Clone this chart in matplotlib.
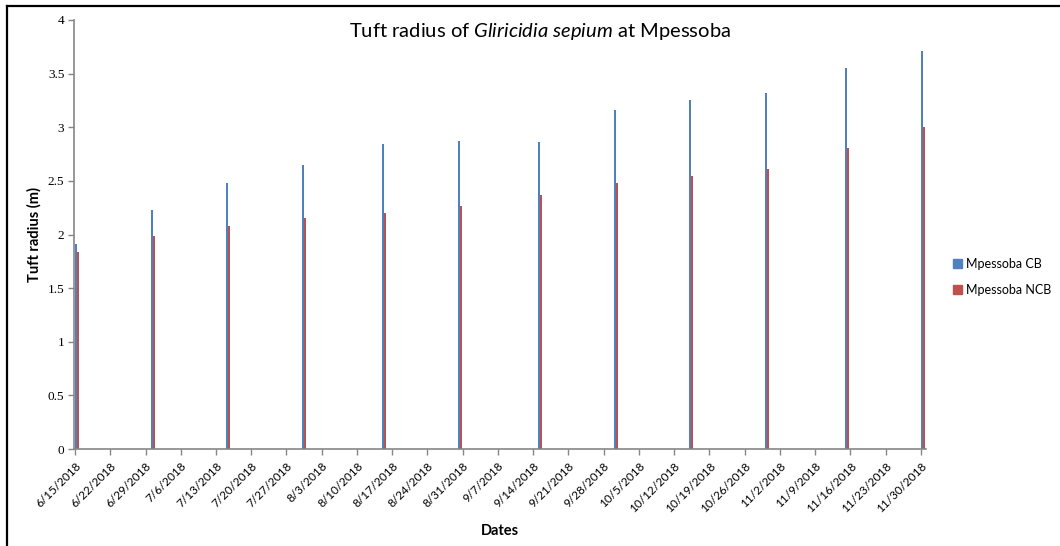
import datetime as dt

import matplotlib
matplotlib.use("Agg")
import matplotlib.pyplot as plt
import matplotlib.dates as mdates
from matplotlib.lines import Line2D
from matplotlib.patches import Patch

CB_BLUE = "#4f81bd"
NCB_RED = "#c0504d"
AXIS_GREY = "#868686"

# measurement dates and tuft radius (m) for each treatment
dates = [
    dt.date(2018, 6, 15), dt.date(2018, 6, 30), dt.date(2018, 7, 15),
    dt.date(2018, 7, 30), dt.date(2018, 8, 15), dt.date(2018, 8, 30),
    dt.date(2018, 9, 15), dt.date(2018, 9, 30), dt.date(2018, 10, 15),
    dt.date(2018, 10, 30), dt.date(2018, 11, 15), dt.date(2018, 11, 30),
]
radius_cb = [1.91, 2.23, 2.48, 2.65, 2.84, 2.87, 2.86, 3.16, 3.25, 3.32, 3.55, 3.71]
radius_ncb = [1.84, 1.99, 2.08, 2.15, 2.20, 2.27, 2.37, 2.48, 2.55, 2.61, 2.81, 3.00]

week_ticks = [dt.date(2018, 6, 15) + dt.timedelta(days=7 * i) for i in range(25)]
y_ticks = [0, 0.5, 1, 1.5, 2, 2.5, 3, 3.5, 4]


def plot():
    plt.rcParams["mathtext.fontset"] = "custom"
    plt.rcParams["mathtext.rm"] = "Lato"
    plt.rcParams["mathtext.it"] = "Lato:italic"

    W, H = 1060, 546
    fig = plt.figure(figsize=(W / 100, H / 100), dpi=100)
    ax = fig.add_axes([74 / W, 1 - 449 / H, (926 - 74) / W, (449 - 20) / H])

    x = mdates.date2num(dates)
    bw = 0.4
    ax.bar(x + 0.2, radius_cb, width=bw, color=CB_BLUE, linewidth=0)
    ax.bar(x + 0.6, radius_ncb, width=bw, color=NCB_RED, linewidth=0)

    ax.set_xlim(mdates.date2num(dt.date(2018, 6, 15)) - 0.2,
                mdates.date2num(dt.date(2018, 12, 1)))
    ax.set_ylim(0, 4)

    ax.set_xticks(mdates.date2num(week_ticks))
    ax.set_xticklabels([f"{d.month}/{d.day}/{d.year}" for d in week_ticks],
                       rotation=45, ha="right", rotation_mode="anchor",
                       fontsize=8.5, family="Lato")
    ax.set_yticks(y_ticks)
    ax.set_yticklabels([f"{v:g}" for v in y_ticks], fontsize=9.5,
                       family="Liberation Serif")

    for side in ("top", "right"):
        ax.spines[side].set_visible(False)
    for side in ("left", "bottom"):
        ax.spines[side].set_color(AXIS_GREY)
        ax.spines[side].set_linewidth(1.2)
    ax.tick_params(axis="both", direction="out", length=4, width=1,
                   color=AXIS_GREY, pad=3)
    ax.tick_params(axis="x", pad=4)

    ax.set_xlabel("Dates", fontsize=10.5, fontweight="bold", family="Lato")
    ax.xaxis.set_label_coords(0.5, -0.175)
    ax.set_ylabel("Tuft radius (m)", fontsize=10.5, fontweight="bold",
                  family="Lato")
    ax.yaxis.set_label_coords(-0.038, 0.5)

    fig.text(540 / W, 1 - 31 / H,
             r"Tuft radius of $\mathit{Gliricidia\ sepium}$ at Mpessoba",
             ha="center", va="center", fontsize=14.5, family="Lato")

    handles = [Patch(color=CB_BLUE, label="Mpessoba CB"),
               Patch(color=NCB_RED, label="Mpessoba NCB")]
    fig.legend(handles=handles, loc="center left",
               bbox_to_anchor=(953 / W, 1 - 277 / H), frameon=False,
               prop={"family": "Lato", "size": 9}, handlelength=0.7,
               handleheight=0.7, handletextpad=0.3, labelspacing=1.1,
               borderpad=0, borderaxespad=0)

    # chart frame edges
    fig.add_artist(Line2D([7 / W, 1], [1 - 6 / H, 1 - 6 / H], color="black",
                          linewidth=1.6, transform=fig.transFigure))
    fig.add_artist(Line2D([7 / W, 7 / W], [0, 1 - 6 / H], color="black",
                          linewidth=1.6, transform=fig.transFigure))

    fig.savefig("out.png", dpi=100)
    plt.close(fig)


if __name__ == "__main__":
    plot()
